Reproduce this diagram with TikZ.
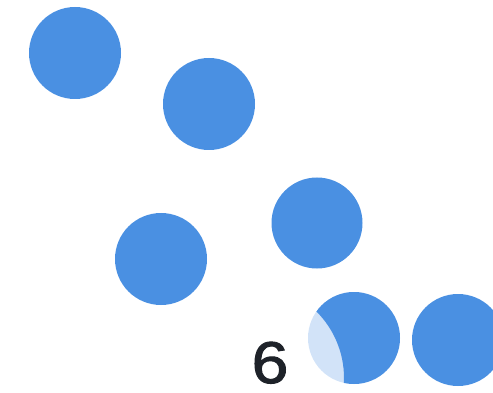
\documentclass[tikz,border=0pt]{standalone}
\usepackage{fontspec}
\setmainfont{Liberation Sans}
\newfontfamily\numfont[FakeBold=1.6]{Liberation Sans}
\definecolor{dotblue}{HTML}{4A90E2}
\definecolor{dotlight}{HTML}{D2E3F8}
\definecolor{numgray}{HTML}{1E2229}
\begin{document}
\begin{tikzpicture}[x=1pt,y=-1pt,
  dot/.style={fill=dotblue,draw=none}]
\useasboundingbox (0,0) rectangle (493,393);
\fill[dot] (75,53) circle (46);
\fill[dot] (209,104) circle (46);
\fill[dot] (317,223) circle (45.5);
\fill[dot] (161,259) circle (46);
\fill[dot] (458,340) circle (46);
\fill[dotlight] (354,338) circle (46);
\begin{scope}
  \clip (354,338) circle (46);
  \fill[dotblue,even odd rule] (300,280) rectangle (410,400) (250,378) circle (94);
\end{scope}
\node[text=numgray,font=\numfont\fontsize{59}{60}\selectfont,inner sep=0pt,anchor=base,xscale=1.12] (six) at (270,383) {6};
\end{tikzpicture}
\end{document}
